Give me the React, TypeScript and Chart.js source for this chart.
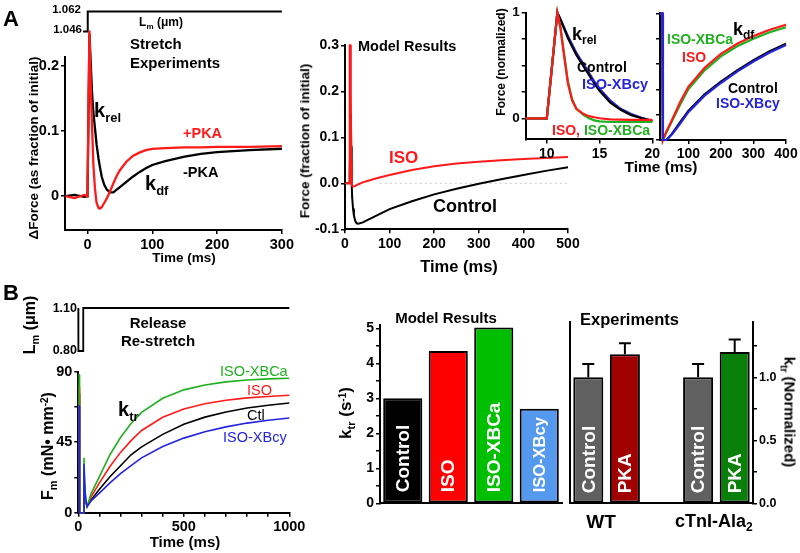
import React, { useEffect, useRef } from 'react';
import { Chart, registerables } from 'chart.js';

Chart.register(...registerables);

const FONT = '"Liberation Sans", Arial, Helvetica, sans-serif';
Chart.defaults.font.family = FONT;

// ===== Panel A: stretch experiments =====
const stretchLmTime = [-7, 0, 0.4, 300];
const stretchLm = [1.046, 1.046, 1.062, 1.062];
const stretchTime = [-34, -20, -5, 0, 1.5, 3, 5, 7, 9, 11.5, 14, 17, 19, 22, 26, 30, 35, 40, 45, 50, 60, 70, 80, 90, 100, 120, 150, 175, 200, 250, 300];
const stretchMinusPKA = [0, 0.002, -0.001, 0, 0.12, 0.25, 0.205, 0.16, 0.13, 0.105, 0.08, 0.058, 0.046, 0.03, 0.017, 0.01, 0.006, 0.006, 0.01, 0.014, 0.022, 0.03, 0.037, 0.043, 0.048, 0.054, 0.061, 0.065, 0.068, 0.071, 0.073];
const stretchPlusPKA = [0, -0.003, 0.002, 0, 0.13, 0.255, 0.17, 0.11, 0.05, 0.012, -0.01, -0.018, -0.019, -0.017, -0.01, -0.003, 0.008, 0.02, 0.031, 0.04, 0.053, 0.062, 0.067, 0.071, 0.073, 0.074, 0.075, 0.075, 0.076, 0.076, 0.077];
const stretchXTicks = [0, 100, 200, 300];
const stretchXLabels = ['0', '100', '200', '300'];
const stretchYTicks = [0, 0.1, 0.2];
const stretchYLabels = ['0', '0.1', '0.2'];

// ===== Panel A: model results =====
const modelTime = [0, 9, 10, 11, 12, 13, 14, 15, 16, 18, 20, 23, 26, 30, 40, 50, 75, 100, 150, 200, 250, 300, 350, 400, 450, 500];
const modelControl = [0, 0, 0, 0.02, 0.1, 0.15, 0.08, 0.0, -0.03, -0.055, -0.07, -0.082, -0.087, -0.088, -0.085, -0.08, -0.068, -0.056, -0.039, -0.024, -0.012, -0.001, 0.009, 0.018, 0.027, 0.035];
const modelISO = [0, 0, 0.3, 0.3, 0.3, 0.2, 0.05, -0.003, -0.006, -0.007, -0.007, -0.006, -0.004, -0.002, 0.002, 0.005, 0.012, 0.018, 0.029, 0.037, 0.043, 0.047, 0.05, 0.053, 0.055, 0.057];
const modelZeroTime = [78, 500];
const modelZero = [0, 0];
const modelXTicks = [0, 100, 200, 300, 400, 500];
const modelXLabels = ['0', '100', '200', '300', '400', '500'];
const modelYTicks = [-0.1, 0, 0.1, 0.2, 0.3];
const modelYLabels = ['-0.1', '0.0', '0.1', '0.2', '0.3'];

// ===== Panel A inset: k_rel (normalized) =====
const krelTime = [8, 10, 10.5, 11, 11.3, 11.6, 12, 12.4, 12.8, 13.5, 14, 14.5, 15, 16, 17, 18, 19, 20];
const krelControl = [0, 0, 0.5, 1.0, 0.93, 0.86, 0.76, 0.68, 0.6, 0.49, 0.41, 0.33, 0.26, 0.15, 0.08, 0.03, 0.0, -0.025];
const krelXBcy = [0, 0, 0.5, 1.0, 0.94, 0.87, 0.78, 0.7, 0.62, 0.51, 0.43, 0.35, 0.28, 0.17, 0.09, 0.04, 0.005, -0.025];
const krelISO = [0, 0, 0.5, 1.0, 0.85, 0.62, 0.33, 0.17, 0.09, 0.04, 0.02, 0.01, 0.0, -0.01, -0.012, -0.015, -0.015, -0.015];
const krelXBCa = [0, 0, 0.5, 1.0, 0.86, 0.64, 0.35, 0.18, 0.09, 0.03, 0.0, -0.02, -0.03, -0.035, -0.035, -0.035, -0.035, -0.035];
const krelXTicks = [10, 15, 20];
const krelXLabels = ['10', '15', '20'];
const krelYTicks = [0, 0.25, 0.5, 0.75, 1];
const krelYLabels = ['0', '', '', '', '1'];

// ===== Panel A inset: k_df (normalized) =====
const kdfTime = [13, 20, 22, 25, 33, 50, 75, 100, 150, 200, 250, 300, 350, 400];
const kdfISO = [1, 1, 0, 0.02, 0.07, 0.16, 0.3, 0.42, 0.57, 0.68, 0.76, 0.82, 0.87, 0.91];
const kdfXBCa = [1, 1, 0, 0.015, 0.06, 0.15, 0.28, 0.4, 0.55, 0.66, 0.74, 0.8, 0.85, 0.89];
const kdfControl = [1, 1, 0, 0, 0, 0.05, 0.14, 0.23, 0.36, 0.46, 0.55, 0.63, 0.7, 0.76];
const kdfXBcy = [1, 1, 0, 0, 0, 0.045, 0.13, 0.22, 0.35, 0.45, 0.54, 0.62, 0.69, 0.75];
const kdfXTicks = [100, 200, 300, 400];
const kdfXLabels = ['100', '200', '300', '400'];
const kdfYTicks = [0, 0.2, 0.4, 0.6, 0.8, 1];
const kdfYLabels = ['', '', '', '', '', ''];

// ===== Panel B: release / re-stretch =====
const releaseLmTime = [0, 0.5, 23, 23.5, 1000];
const releaseLm = [1.1, 0.8, 0.8, 1.1, 1.1];
const ktrTime = [0, 4, 6, 24, 27, 30, 35, 42, 60, 100, 150, 200, 250, 300, 400, 500, 600, 700, 800, 900, 1000];
const ktrCtl = [76, 76, 0, 0, 22, 14, 7, 4, 8, 15, 23, 30, 37, 42, 50, 56.5, 61, 64.3, 66.8, 68.6, 70];
const ktrISO = [80, 80, 0, 0, 26, 16, 8, 4, 10, 19, 29.5, 38.5, 46, 52.5, 60.9, 66.2, 69.6, 71.8, 73.3, 74.2, 75];
const ktrXBCa = [88, 88, 0, 0, 35, 20, 9, 4, 12, 23, 37, 48, 57, 64, 73, 78.4, 81.5, 83.5, 84.7, 85.4, 85.8];
const ktrXBcy = [68, 68, 0, 0, 31, 18, 8, 4, 7.5, 12.5, 19, 25, 30, 35, 42.2, 47.6, 51.7, 54.8, 57.2, 59, 60.4];
const ktrXTicks = [0, 100, 200, 300, 400, 500, 600, 700, 800, 900, 1000];
const ktrXLabels = ['0', '', '', '', '', '500', '', '', '', '', '1000'];
const ktrYTicks = [0, 22.5, 45, 67.5, 90];
const ktrYLabels = ['0', '', '45', '', '90'];

// ===== Panel B: bars =====
const modelBarLabels = ['Control', 'ISO', 'ISO-XBCa', 'ISO-XBcy'];
const modelKtr = [3.0, 4.35, 5.02, 2.7];
const modelBarYTicks = [0, 0.5, 1, 1.5, 2, 2.5, 3, 3.5, 4, 4.5, 5];
const modelBarYLabels = ['0', '', '1', '', '2', '', '3', '', '4', '', '5'];
const expBarLabels = ['Control', 'PKA', '', 'Control', 'PKA'];
const expKtr = [1.0, 1.183, null, 1.0, 1.2];
const expErr = [0.105, 0.087, null, 0.105, 0.1];
const expYTicks = [0, 0.25, 0.5, 0.75, 1, 1.25];
const expYLabels = ['0.0', '', '0.5', '', '1.0', ''];
const expGroups = ['WT', 'cTnI-Ala'];

const RED = '#ff1a1a';
const GREEN = '#1fb01f';
const BLUE = '#2424dd';
const BLACK = '#000000';
const modelBarColors = ['#000000', '#ff0000', '#00bf00', '#5599ee'];
const expBarColors = ['#606060', '#a00000', '#ffffff', '#606060', '#0a800a'];

// ---------- helpers ----------
function line(xs: number[], ys: number[], color: string, width: number, extra: any = {}) {
  return {
    data: xs.map((x, i) => ({ x, y: ys[i] })),
    borderColor: color,
    backgroundColor: color,
    borderWidth: width,
    pointRadius: 0,
    tension: 0,
    fill: false,
    clip: false,
    ...extra,
  };
}

function linAxis(pos: string, min: number, max: number, ticks: number[], labels: string[], size: number, thick: number) {
  const isX = pos === 'bottom';
  return {
    type: 'linear',
    position: pos,
    min,
    max,
    border: { display: true, color: '#000', width: 2 },
    grid: { display: true, drawOnChartArea: false, drawTicks: true, tickLength: 4, color: '#000', lineWidth: 1.5 },
    ticks: {
      color: '#000',
      font: { family: FONT, size, weight: 'bold' },
      padding: 2,
      maxRotation: 0,
      minRotation: 0,
      autoSkip: false,
      callback: (_v: any, i: number) => labels[i],
    },
    afterBuildTicks: (s: any) => {
      s.ticks = ticks.map((v) => ({ value: v }));
    },
    afterFit: (s: any) => {
      if (isX) {
        s.height = thick;
        s.paddingLeft = 0;
        s.paddingRight = 0;
      } else {
        s.width = thick;
        s.paddingTop = 0;
        s.paddingBottom = 0;
      }
    },
  };
}

function hiddenAxis(min: number, max: number) {
  return { type: 'linear', display: false, min, max };
}

function baseOptions(pad: any) {
  return {
    responsive: false,
    animation: false,
    devicePixelRatio: 1,
    events: [],
    layout: { padding: pad },
    plugins: { legend: { display: false }, tooltip: { enabled: false } },
  };
}

const barTextPlugin = {
  id: 'barText',
  afterDatasetsDraw(chart: any, _a: any, opts: any) {
    if (!opts || !opts.labels) return;
    const meta = chart.getDatasetMeta(0);
    const ctx = chart.ctx;
    const base = chart.chartArea.bottom - (opts.offset ?? 10);
    meta.data.forEach((el: any, i: number) => {
      const text = opts.labels[i];
      if (!text) return;
      const size = Array.isArray(opts.size) ? opts.size[i] : opts.size;
      ctx.save();
      ctx.translate(el.x + 1, base);
      ctx.rotate(-Math.PI / 2);
      ctx.font = `bold ${size}px ${FONT}`;
      ctx.fillStyle = '#fff';
      ctx.textAlign = 'left';
      ctx.textBaseline = 'middle';
      ctx.fillText(text, 0, 0);
      ctx.restore();
    });
  },
};

const errorBarPlugin = {
  id: 'errorBars',
  afterDatasetsDraw(chart: any, _a: any, opts: any) {
    if (!opts || !opts.errors) return;
    const meta = chart.getDatasetMeta(0);
    const ys = chart.scales[meta.yAxisID];
    const vals = chart.data.datasets[0].data;
    const ctx = chart.ctx;
    ctx.save();
    ctx.strokeStyle = '#000';
    ctx.lineWidth = 2;
    meta.data.forEach((el: any, i: number) => {
      const e = opts.errors[i];
      const v = vals[i];
      if (e == null || v == null) return;
      const yTop = ys.getPixelForValue(v + e);
      ctx.beginPath();
      ctx.moveTo(el.x, el.y);
      ctx.lineTo(el.x, yTop);
      ctx.moveTo(el.x - opts.cap / 2, yTop);
      ctx.lineTo(el.x + opts.cap / 2, yTop);
      ctx.stroke();
    });
    ctx.restore();
  },
};

type Box = { x: number; y: number; w: number; h: number };

function ChartBox({ box, make }: { box: Box; make: () => any }) {
  const ref = useRef<HTMLCanvasElement | null>(null);
  useEffect(() => {
    const chart = new Chart(ref.current as HTMLCanvasElement, make());
    return () => chart.destroy();
  }, []);
  return (
    <canvas
      ref={ref}
      width={box.w}
      height={box.h}
      style={{ position: 'absolute', left: box.x, top: box.y, width: box.w, height: box.h }}
    />
  );
}

function Txt({ x, y, size, color = '#000', weight = 700, rot = 0, align = 'center', children }: any) {
  const tx = align === 'center' ? '-50%' : align === 'right' ? '-100%' : '0';
  return (
    <div
      style={{
        position: 'absolute',
        left: x,
        top: y,
        fontSize: size,
        color,
        fontWeight: weight,
        whiteSpace: 'nowrap',
        lineHeight: 1,
        transform: `translate(${tx}, -50%) rotate(${rot}deg)`,
      }}
    >
      {children}
    </div>
  );
}

const Sub = ({ children, size }: any) => (
  <span style={{ fontSize: size, position: 'relative', top: '0.35em' }}>{children}</span>
);
const Sup = ({ children, size }: any) => (
  <span style={{ fontSize: size, position: 'relative', top: '-0.5em' }}>{children}</span>
);

// ---------- chart configs ----------
const boxALm: Box = { x: 60, y: 2, w: 235, h: 40 };
const makeALm = () => ({
  type: 'line',
  data: { datasets: [line(stretchLmTime, stretchLm, BLACK, 2)] },
  options: {
    ...baseOptions({ left: 5, top: 9.5, right: 13.1, bottom: 10.5 }),
    scales: { x: hiddenAxis(-34.7, 300), y: hiddenAxis(1.046, 1.062) },
  },
});

const boxAStretch: Box = { x: 15, y: 20, w: 285, h: 240 };
const makeAStretch = () => ({
  type: 'line',
  data: {
    datasets: [
      line(stretchTime, stretchPlusPKA, RED, 2.3),
      line(stretchTime, stretchMinusPKA, BLACK, 2.3),
    ],
  },
  options: {
    ...baseOptions({ left: 0, top: 36.5, right: 18.1, bottom: 0 }),
    scales: {
      x: linAxis('bottom', -34.7, 300, stretchXTicks, stretchXLabels, 14.5, 30),
      y: linAxis('left', -0.052, 0.215, stretchYTicks, stretchYLabels, 14.5, 50),
    },
  },
});

const boxAModel: Box = { x: 295, y: 30, w: 290, h: 230 };
const makeAModel = () => ({
  type: 'line',
  data: {
    datasets: [
      line(modelTime, modelISO, RED, 2),
      line(modelTime, modelControl, BLACK, 2),
      line(modelZeroTime, modelZero, '#c8c8c8', 1, { borderDash: [2, 3] }),
    ],
  },
  options: {
    ...baseOptions({ left: 0, top: 15.3, right: 17, bottom: 0 }),
    scales: {
      x: linAxis('bottom', 0, 500, modelXTicks, modelXLabels, 14, 30.7),
      y: linAxis('left', -0.1, 0.3, modelYTicks, modelYLabels, 14, 50),
    },
  },
});

const boxKrel: Box = { x: 505, y: 2, w: 160, h: 160 };
const makeKrel = () => ({
  type: 'line',
  data: {
    datasets: [
      line(krelTime, krelISO, RED, 2.2),
      line(krelTime, krelXBCa, GREEN, 2.2),
      line(krelTime, krelControl, BLACK, 2.2),
      line(krelTime, krelXBcy, BLUE, 2.2),
    ],
  },
  options: {
    ...baseOptions({ left: 0, top: 10.7, right: 12.7, bottom: 0 }),
    scales: {
      x: linAxis('bottom', 8, 20, krelXTicks, krelXLabels, 14, 22.6),
      y: linAxis('left', -0.2, 1.0, krelYTicks, krelYLabels, 13.5, 20.7),
    },
  },
});

const boxKdf: Box = { x: 640, y: 2, w: 160, h: 160 };
const makeKdf = () => ({
  type: 'line',
  data: {
    datasets: [
      line(kdfTime, kdfXBcy, BLUE, 2.2),
      line(kdfTime, kdfISO, RED, 2.2),
      line(kdfTime, kdfXBCa, GREEN, 2.2),
      line(kdfTime, kdfControl, BLACK, 2.2),
    ],
  },
  options: {
    ...baseOptions({ left: 0, top: 11.3, right: 14, bottom: 0 }),
    scales: {
      x: linAxis('bottom', 13, 400, kdfXTicks, kdfXLabels, 14, 22),
      y: linAxis('left', 0, 1, kdfYTicks, kdfYLabels, 13, 20),
    },
  },
});

const boxBLm: Box = { x: 70, y: 298, w: 230, h: 62 };
const makeBLm = () => ({
  type: 'line',
  data: { datasets: [line(releaseLmTime, releaseLm, BLACK, 1.8)] },
  options: {
    ...baseOptions({ left: 8.3, top: 10, right: 10.7, bottom: 9 }),
    scales: { x: hiddenAxis(0, 1000), y: hiddenAxis(0.8, 1.1) },
  },
});

const boxBKtr: Box = { x: 35, y: 360, w: 270, h: 180 };
const makeBKtr = () => ({
  type: 'line',
  data: {
    datasets: [
      line(ktrTime, ktrXBcy, BLUE, 1.6),
      line(ktrTime, ktrXBCa, GREEN, 1.6),
      line(ktrTime, ktrISO, RED, 1.6),
      line(ktrTime, ktrCtl, BLACK, 1.6),
    ],
  },
  options: {
    ...baseOptions({ left: 0, top: 11.7, right: 15.7, bottom: 0 }),
    scales: {
      x: linAxis('bottom', 0, 1000, ktrXTicks, ktrXLabels, 14.5, 27.3),
      y: linAxis('left', 0, 90, ktrYTicks, ktrYLabels, 14.5, 43.3),
    },
  },
});

const catAxis = (h: number) => ({
  type: 'category',
  position: 'bottom',
  border: { display: true, color: '#000', width: 2 },
  grid: { display: false },
  ticks: { display: false },
  afterFit: (s: any) => {
    s.height = h;
    s.paddingLeft = 0;
    s.paddingRight = 0;
  },
});

const boxBModel: Box = { x: 340, y: 310, w: 225, h: 205 };
const makeBModel = () => ({
  type: 'bar',
  data: {
    labels: modelBarLabels,
    datasets: [
      {
        data: modelKtr,
        backgroundColor: modelBarColors,
        borderColor: '#000',
        borderWidth: 2,
        borderSkipped: false,
        barPercentage: 0.86,
        categoryPercentage: 1,
      },
    ],
  },
  plugins: [barTextPlugin],
  options: {
    ...baseOptions({ left: 0, top: 14.8, right: 3, bottom: 0 }),
    plugins: {
      legend: { display: false },
      tooltip: { enabled: false },
      barText: { labels: modelBarLabels, size: [19, 19, 19, 16.5], offset: 11 },
    },
    scales: {
      x: catAxis(11.7),
      y: linAxis('left', 0, 5.1, modelBarYTicks, modelBarYLabels, 14, 40),
    },
  },
});

const boxBExp: Box = { x: 555, y: 310, w: 245, h: 205 };
const makeBExp = () => ({
  type: 'bar',
  data: {
    labels: expBarLabels,
    datasets: [
      {
        data: expKtr,
        backgroundColor: expBarColors,
        borderColor: '#000',
        borderWidth: 2,
        borderSkipped: false,
        barPercentage: 0.82,
        categoryPercentage: 1,
        yAxisID: 'y',
      },
    ],
  },
  plugins: [barTextPlugin, errorBarPlugin],
  options: {
    ...baseOptions({ left: 0, top: 11.7, right: 0, bottom: 0 }),
    plugins: {
      legend: { display: false },
      tooltip: { enabled: false },
      barText: { labels: expBarLabels, size: 19, offset: 10 },
      errorBars: { errors: expErr, cap: 12 },
    },
    scales: {
      x: catAxis(11.7),
      yl: {
        type: 'linear',
        position: 'left',
        min: 0,
        max: 1.441,
        border: { display: true, color: '#000', width: 2 },
        grid: { display: false },
        ticks: { display: false },
        afterFit: (s: any) => {
          s.width = 15;
          s.paddingTop = 0;
          s.paddingBottom = 0;
        },
      },
      y: linAxis('right', 0, 1.441, expYTicks, expYLabels, 12.5, 47),
    },
  },
});

export default function App() {
  return (
    <div
      style={{
        position: 'absolute',
        left: 0,
        top: 0,
        width: 800,
        height: 553,
        background: '#fff',
        fontFamily: FONT,
        overflow: 'hidden',
      }}
    >
      <ChartBox box={boxALm} make={makeALm} />
      <ChartBox box={boxAStretch} make={makeAStretch} />
      <ChartBox box={boxAModel} make={makeAModel} />
      <ChartBox box={boxKrel} make={makeKrel} />
      <ChartBox box={boxKdf} make={makeKdf} />
      <ChartBox box={boxBLm} make={makeBLm} />
      <ChartBox box={boxBKtr} make={makeBKtr} />
      <ChartBox box={boxBModel} make={makeBModel} />
      <ChartBox box={boxBExp} make={makeBExp} />

      {/* Panel A */}
      <Txt x={11} y={19} size={22}>A</Txt>
      <Txt x={81} y={10} size={11.5} align="right">1.062</Txt>
      <Txt x={82} y={30} size={11.5} align="right">1.046</Txt>
      <Txt x={161} y={22} size={12}>
        L<Sub size={8}>m</Sub> (μm)
      </Txt>
      <Txt x={130} y={43} size={15} align="left">Stretch</Txt>
      <Txt x={130} y={62} size={15} align="left">Experiments</Txt>
      <Txt x={94} y={110} size={20} align="left" weight={700}>
        k<Sub size={13}>rel</Sub>
      </Txt>
      <Txt x={183} y={133} size={14.5} align="left" color={RED}>+PKA</Txt>
      <Txt x={183} y={172} size={14.5} align="left">-PKA</Txt>
      <Txt x={145} y={183} size={20} align="left">
        k<Sub size={13}>df</Sub>
      </Txt>
      <Txt x={34} y={148} size={13.5} rot={-90}>ΔForce (as fraction of initial)</Txt>
      <Txt x={184} y={258} size={13.5}>Time (ms)</Txt>

      <Txt x={358} y={46} size={14.5} align="left">Model Results</Txt>
      <Txt x={389} y={157} size={17} align="left" color={RED}>ISO</Txt>
      <Txt x={433} y={206} size={18} align="left">Control</Txt>
      <Txt x={305} y={141} size={13.5} rot={-90}>Force (fraction of initial)</Txt>
      <Txt x={459} y={266} size={16.5}>Time (ms)</Txt>

      <Txt x={501} y={62} size={12} rot={-90}>Force (normalized)</Txt>
      <Txt x={572} y={34} size={18} align="left">
        k<Sub size={12}>rel</Sub>
      </Txt>
      <Txt x={577} y={67} size={14} align="left">Control</Txt>
      <Txt x={582} y={84} size={14.5} align="left" color={BLUE}>ISO-XBcy</Txt>
      <Txt x={552} y={130} size={14} align="left">
        <span style={{ color: RED }}>ISO,</span> <span style={{ color: GREEN }}>ISO-XBCa</span>
      </Txt>
      <Txt x={733} y={29} size={18} align="left">
        k<Sub size={12}>df</Sub>
      </Txt>
      <Txt x={667} y={39} size={14} align="left" color={GREEN}>ISO-XBCa</Txt>
      <Txt x={682} y={57} size={14} align="left" color={RED}>ISO</Txt>
      <Txt x={728} y={88} size={14} align="left">Control</Txt>
      <Txt x={716} y={103} size={14} align="left" color={BLUE}>ISO-XBcy</Txt>
      <Txt x={661} y={167} size={15.5}>Time (ms)</Txt>

      {/* Panel B */}
      <Txt x={11} y={293} size={22}>B</Txt>
      <Txt x={77} y={308} size={12.5} align="right">1.10</Txt>
      <Txt x={77} y={350} size={12.5} align="right">0.80</Txt>
      <Txt x={30} y={325} size={16} rot={-90}>
        L<Sub size={11}>m</Sub> (μm)
      </Txt>
      <Txt x={158} y={322} size={15}>Release</Txt>
      <Txt x={158} y={340} size={15}>Re-stretch</Txt>
      <Txt x={48} y={446} size={16} rot={-90}>
        F<Sub size={11}>m</Sub> (mN• mm<Sup size={10}>-2</Sup>)
      </Txt>
      <Txt x={118} y={409} size={20} align="left">
        k<Sub size={13}>tr</Sub>
      </Txt>
      <Txt x={220} y={371} size={14.5} weight={400} align="left" color={GREEN}>ISO-XBCa</Txt>
      <Txt x={247} y={390} size={14.5} weight={400} align="left" color={RED}>ISO</Txt>
      <Txt x={247} y={415} size={14.5} weight={400} align="left">Ctl</Txt>
      <Txt x={223} y={437} size={14.5} weight={400} align="left" color={BLUE}>ISO-XBcy</Txt>
      <Txt x={185} y={541} size={15}>Time (ms)</Txt>

      <Txt x={446} y={317} size={15}>Model Results</Txt>
      <Txt x={345} y={413} size={17} rot={-90}>
        k<Sub size={11}>tr</Sub> (s<Sup size={10}>-1</Sup>)
      </Txt>
      <Txt x={580} y={319} size={16.5} align="left">Experiments</Txt>
      <Txt x={601} y={521} size={19}>{expGroups[0]}</Txt>
      <Txt x={675} y={521} size={18} align="left">
        {expGroups[1]}
        <Sub size={12}>2</Sub>
      </Txt>
      <Txt x={790} y={412} size={15} rot={90}>
        k<Sub size={10}>tr</Sub> (Normalized)
      </Txt>
    </div>
  );
}
